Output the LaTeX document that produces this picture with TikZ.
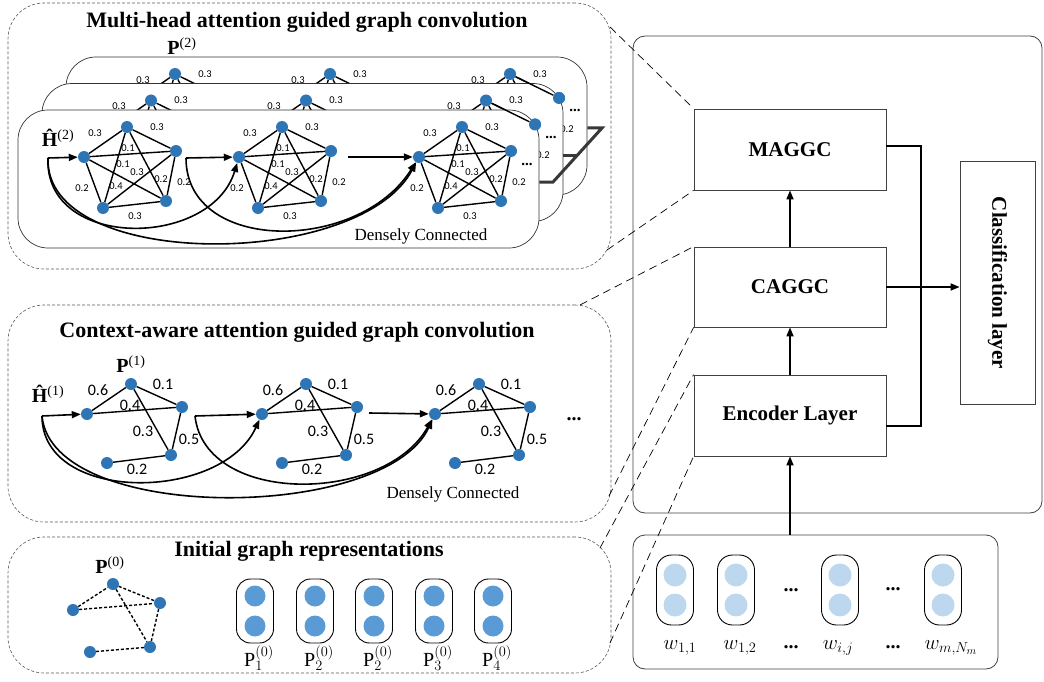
\documentclass[tikz,border=0pt]{standalone}
\usepackage{fontspec}
\setmainfont{Liberation Serif}
\newfontfamily\numfont{Carlito}
\usetikzlibrary{arrows.meta}

\definecolor{dotblue}{HTML}{2E75B6}
\definecolor{cellblue}{HTML}{5B9BD5}
\definecolor{tokenblue}{HTML}{BDD7EE}
\definecolor{bargray}{HTML}{383838}

\tikzset{
  vtx/.style = {circle, fill = dotblue, inner sep = 0pt, minimum size = 12pt},
  link/.style = {line width = 1.4pt},
  weaklink/.style = {line width = 1.4pt, dash pattern = on 3pt off 2pt},
  wt/.style = {inner sep = 0pt, font = \numfont\fontsize{10.5}{11}\selectfont},
  bigwt/.style = {inner sep = 0pt, font = \numfont\fontsize{16}{17}\selectfont},
  panel/.style = {draw = black!65, line width = 0.6pt, dash pattern = on 3pt off 2pt,
    rounded corners = 36pt},
  headline/.style = {font = \bfseries\fontsize{22}{24}\selectfont},
  sheet/.style = {draw = black!80, fill = white, line width = 0.7pt, rounded corners = 30pt,
    minimum width = 521pt, minimum height = 138pt},
  flow/.style = {line width = 1.6pt, -{Triangle[length = 9pt, width = 7pt]}},
  catbar/.style = {line width = 3pt, bargray},
  layerbox/.style = {draw = black!75, line width = 0.8pt, minimum width = 192pt,
    minimum height = 81pt, font = \bfseries\fontsize{21}{24}\selectfont},
  zoomline/.style = {line width = 0.7pt, dash pattern = on 8pt off 5pt},
  mathlabel/.style = {inner sep = 0pt, font = \fontsize{20}{22}\selectfont},
  wordlabel/.style = {font = \fontsize{22}{24}\selectfont},
  remark/.style = {font = \fontsize{17}{19}\selectfont},
  ellip/.style = {anchor = base, inner sep = 0pt, font = \bfseries\fontsize{20}{22}\selectfont},
  smallellip/.style = {anchor = base, inner sep = 0pt, font = \bfseries\fontsize{15}{16}\selectfont},
  capsule/.style = {draw, line width = 0.9pt, rounded corners = 14pt,
    minimum width = 37pt, minimum height = 64pt},
  tokencap/.style = {draw, line width = 0.9pt, rounded corners = 15pt,
    minimum width = 37pt, minimum height = 70pt},
  cellblob/.style = {circle, fill = cellblue, inner sep = 0pt, minimum size = 21pt},
  tokenblob/.style = {circle, fill = tokenblue, inner sep = 0pt, minimum size = 23pt}
}

% complete graph on five nodes with its weights
\newcommand{\FullPenta}[3]{%
  \begin{scope}[shift = {(#2,#3)}]
    \node[vtx] (#1top) at (127,127) {};
    \node[vtx] (#1lft) at (84,157) {};
    \node[vtx] (#1rgt) at (176,151) {};
    \node[vtx] (#1bl)  at (103,208) {};
    \node[vtx] (#1br)  at (166,201) {};
    \node[wt] (#1w1)  at (95,133)  {0.3};
    \node[wt] (#1w2)  at (157,127) {0.3};
    \node[wt] (#1w3)  at (128,148) {0.1};
    \node[wt] (#1w4)  at (123,164) {0.1};
    \node[wt] (#1w5)  at (137,172) {0.3};
    \node[wt] (#1w6)  at (161,179) {0.2};
    \node[wt] (#1w7)  at (184,182) {0.2};
    \node[wt] (#1w8)  at (82,188)  {0.2};
    \node[wt] (#1w9)  at (116,186) {0.4};
    \node[wt] (#1w10) at (135,216) {0.3};
  \end{scope}
  \draw[link] (#1lft) -- (#1top) -- (#1rgt) -- (#1br) -- (#1bl) -- (#1lft)
    -- (#1rgt) -- (#1bl) -- (#1top) -- (#1br) -- (#1lft);
}

% one attention head: sheet, three graphs, dense connections
\newcommand{\HeadLayer}[3]{%
  \begin{scope}[shift = {(#2,#3)}]
    \node[sheet] (#1box) at (278.5,179) {};
    \coordinate (#1s0) at (48,158);
    \coordinate (#1s1) at (186,158);
    \coordinate (#1s2) at (348,157);
  \end{scope}
  \FullPenta{#1g1}{#2}{#3}
  \FullPenta{#1g2}{155+#2}{#3}
  \FullPenta{#1g3}{335+#2}{#3}
  \begin{scope}[shift = {(#2,#3)}]
    \node[smallellip] (#1dots) at (527,165) {...};
  \end{scope}
  \draw[flow] (#1s0) -- (#1g1lft);
  \draw[flow] (#1s1) -- (#1g2lft);
  \draw[flow] (#1s2) -- (#1g3lft);
  \draw[flow] (#1s0) .. controls +(-4,92) and +(-28,92) .. (#1g2lft);
  \draw[flow] (#1s0) .. controls +(-4,113) and +(-60,113) .. (#1g3lft);
  \draw[flow] (#1s1) .. controls +(0,96) and +(-60,96) .. (#1g3lft);
}

% sparse graph of the context-aware layer
\newcommand{\CtxPenta}[2]{%
  \begin{scope}[shift = {(#2,0)}]
    \node[vtx] (#1top) at (131,384) {};
    \node[vtx] (#1lft) at (87,414) {};
    \node[vtx] (#1rgt) at (182,407) {};
    \node[vtx] (#1br)  at (171,455) {};
    \node[vtx] (#1bl)  at (107,463) {};
    \node[bigwt] (#1w1) at (98,390)  {0.6};
    \node[bigwt] (#1w2) at (163,384) {0.1};
    \node[bigwt] (#1w3) at (130,405) {0.4};
    \node[bigwt] (#1w4) at (143,431) {0.3};
    \node[bigwt] (#1w5) at (189,439) {0.5};
    \node[bigwt] (#1w6) at (137,469) {0.2};
  \end{scope}
  \draw[link] (#1lft) -- (#1top) -- (#1rgt) -- (#1br) -- (#1bl);
  \draw[link] (#1lft) -- (#1rgt);
  \draw[link] (#1top) -- (#1br);
}

% capsule holding two feature dots
\newcommand{\Cell}[5]{%
  \node[#4] (#1) at (#2,#3) {};
  \node[#5] (#1a) at (#2,#3-15) {};
  \node[#5] (#1b) at (#2,#3+15) {};
}

\begin{document}
\begin{tikzpicture}[x = 1pt, y = -1pt]
  \useasboundingbox (0,0) rectangle (1044,682);

  % dashed panels on the left
  \node[panel, minimum width = 603pt, minimum height = 266pt] (headpanel) at (309.5,136) {};
  \node[panel, minimum width = 603pt, minimum height = 217pt] (ctxpanel) at (309.5,413.5) {};
  \node[panel, minimum width = 603pt, minimum height = 136pt] (initpanel) at (309.5,605) {};
  \node[headline] (headtitle) at (307,22) {Multi-head attention guided graph convolution};
  \node[headline] (ctxtitle) at (297,332) {Context-aware attention guided graph convolution};
  \node[headline] (inittitle) at (309,551) {Initial graph representations};

  % stacked heads, back to front
  \HeadLayer{h2}{48}{-53}
  \HeadLayer{h1}{24}{-26.5}
  \HeadLayer{h0}{0}{0}
  \draw[link] (h1g3top) -- (h1g3rgt);
  \fill[dotblue] (h1g3rgt) circle (6pt);
  \draw[link] (h2g3top) -- (h2g3rgt);
  \fill[dotblue] (h2g3rgt) circle (6pt);
  \node[mathlabel] (hhat2) at (58,138) {\textbf{\^{H}}\textsuperscript{(2)}};
  \node[mathlabel] (pmat2) at (182,46) {\textbf{P}\textsuperscript{(2)}};
  \node[remark] (dense2) at (421,236) {Densely Connected};

  % heads joined on the right
  \coordinate (cat0) at (553,182);
  \coordinate (cat1) at (577,156);
  \coordinate (cat2) at (602,128);
  \draw[catbar] (cat0 -| h0box.east) -- (cat0) -- (cat2) -- (cat2 -| h2box.east);
  \draw[catbar] (cat1 -| h1box.east) -- (cat1);

  % context-aware layer
  \CtxPenta{c1}{0}
  \CtxPenta{c2}{175}
  \CtxPenta{c3}{348}
  \coordinate (c0s) at (42,416);
  \coordinate (c1s) at (195,416);
  \coordinate (c2s) at (369,413);
  \draw[flow] (c0s) -- (c1lft);
  \draw[flow] (c1s) -- (c2lft);
  \draw[flow] (c2s) -- (c3lft);
  \draw[flow] (c0s) .. controls +(0,88) and +(-40,88) .. (c2lft);
  \draw[flow] (c0s) .. controls +(10,108) and +(-50,108) .. (c3lft);
  \draw[flow] (c1s) .. controls +(10,90) and +(-50,90) .. (c3lft);
  \node[mathlabel] (hhat1) at (48,394) {\textbf{\^{H}}\textsuperscript{(1)}};
  \node[mathlabel] (pmat1) at (131,364) {\textbf{P}\textsuperscript{(1)}};
  \node[ellip] (ctxdots) at (574,420) {...};
  \node[remark] (dense1) at (453,494) {Densely Connected};

  % initial graph
  \node[vtx] (i0top) at (113,584) {};
  \node[vtx] (i0lft) at (73,610) {};
  \node[vtx] (i0rgt) at (160,603) {};
  \node[vtx] (i0br)  at (150,647) {};
  \node[vtx] (i0bl)  at (90,652) {};
  \draw[weaklink] (i0lft) -- (i0top) -- (i0rgt) -- (i0br) -- (i0bl);
  \draw[weaklink] (i0lft) -- (i0rgt);
  \draw[weaklink] (i0top) -- (i0br);
  \node[mathlabel] (pmat0) at (110,565) {\textbf{P}\textsuperscript{(0)}};
  \Cell{q1}{255}{611}{capsule}{cellblob}
  \Cell{q2}{315}{611}{capsule}{cellblob}
  \Cell{q3}{374}{611}{capsule}{cellblob}
  \Cell{q4}{434}{611}{capsule}{cellblob}
  \Cell{q5}{493}{611}{capsule}{cellblob}
  \node[mathlabel] (q1lab) at (259,658) {$\mathrm{P}_1^{(0)}$};
  \node[mathlabel] (q2lab) at (319,658) {$\mathrm{P}_2^{(0)}$};
  \node[mathlabel] (q3lab) at (378,658) {$\mathrm{P}_2^{(0)}$};
  \node[mathlabel] (q4lab) at (438,658) {$\mathrm{P}_3^{(0)}$};
  \node[mathlabel] (q5lab) at (497,658) {$\mathrm{P}_4^{(0)}$};

  % model stack on the right
  \node[draw = black!75, line width = 0.8pt, rounded corners = 12pt, minimum width = 409pt,
    minimum height = 477pt] (frame) at (837.5,274.5) {};
  \node[layerbox] (maggc) at (790,149.5) {MAGGC};
  \node[layerbox, minimum height = 80pt] (caggc) at (790,287) {CAGGC};
  \node[layerbox] (enc) at (790,415.5) {Encoder Layer};
  \node[draw = black!75, line width = 0.8pt, minimum width = 75pt, minimum height = 243pt]
    (cls) at (997.5,283) {};
  \node[rotate = -90, font = \bfseries\fontsize{21}{24}\selectfont] (clstext) at (cls) {Classification layer};
  \draw[flow] (enc.north) -- (caggc.south);
  \draw[flow] (caggc.north) -- (maggc.south);
  \draw[line width = 2pt] ([yshift = 3pt]maggc.east) -- ++(35,0) |- ([yshift = -10pt]enc.east);
  \draw[flow] (caggc.east) -- (caggc.east -| cls.west);

  % word inputs
  \node[draw = black!75, line width = 0.8pt, rounded corners = 12pt, minimum width = 365pt,
    minimum height = 134pt] (words) at (815.5,602) {};
  \Cell{t1}{675}{590}{tokencap}{tokenblob}
  \Cell{t2}{736}{590}{tokencap}{tokenblob}
  \Cell{t3}{840}{590}{tokencap}{tokenblob}
  \Cell{t4}{943}{590}{tokencap}{tokenblob}
  \node[ellip] (tdots1) at (791,591) {...};
  \node[ellip] (tdots2) at (893,590) {...};
  \node[wordlabel] (w1lab) at (680,648) {$w_{1,1}$};
  \node[wordlabel] (w2lab) at (740,648) {$w_{1,2}$};
  \node[ellip] (wdots1) at (791,648) {...};
  \node[wordlabel] (w3lab) at (838,648) {$w_{i,j}$};
  \node[ellip] (wdots2) at (893,648) {...};
  \node[wordlabel] (w4lab) at (951,648) {$w_{m,N_m}$};
  \draw[flow] (enc.south |- words.north) -- (enc.south);

  % zoom lines from the panels to the stack
  \coordinate (z1) at (610,27);
  \coordinate (z2) at (607,250);
  \coordinate (z3) at (580,305);
  \coordinate (z4) at (609,496);
  \coordinate (z5) at (600,548);
  \coordinate (z6) at (610,643);
  \draw[zoomline] (z1) -- (maggc.north west);
  \draw[zoomline] (z2) -- (maggc.south west);
  \draw[zoomline] (z3) -- (caggc.north west);
  \draw[zoomline] (z4) -- (caggc.south west);
  \draw[zoomline] (z5) -- (enc.north west);
  \draw[zoomline] (z6) -- (enc.south west);
\end{tikzpicture}
\end{document}
